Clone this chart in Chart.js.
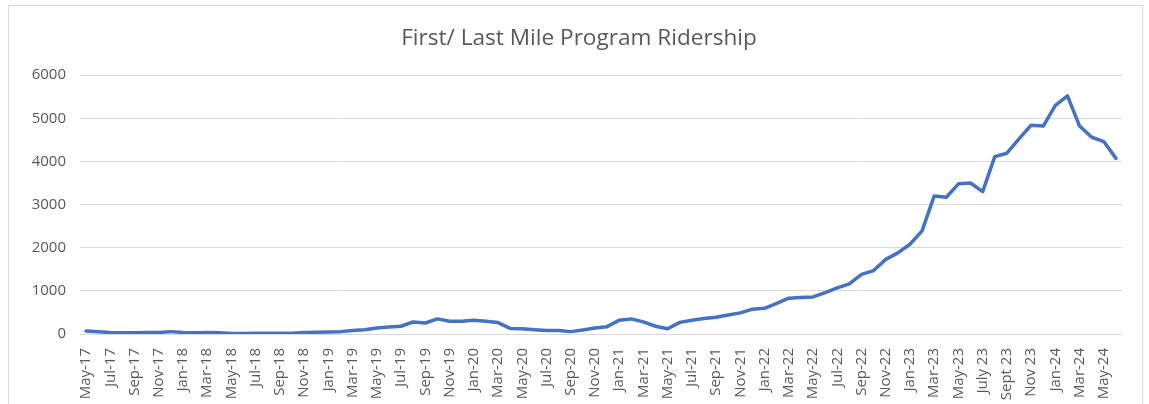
<!DOCTYPE html>
<html>
<head>
<meta charset="utf-8">
<script src="https://cdn.jsdelivr.net/npm/chart.js@4"></script>
<style>
  body { margin: 0; background: #fff; }
  .wrap { position: relative; width: 1149px; height: 404px; overflow: hidden; }
  .frame { position: absolute; left: 8px; top: 5px; width: 1133px; height: 440px; border: 1px solid #d9d9d9; }
  canvas { position: absolute; left: 0; top: 0; }
</style>
</head>
<body>
<div class="wrap">
  <div class="frame"></div>
  <canvas id="myChart" width="1149" height="404"></canvas>
</div>
<script>
// Data

const months = [
    'May-17','Jun-17','Jul-17','Aug-17','Sep-17','Oct-17','Nov-17','Dec-17',
    'Jan-18','Feb-18','Mar-18','Apr-18','May-18','Jun-18','Jul-18','Aug-18','Sep-18','Oct-18','Nov-18','Dec-18',
    'Jan-19','Feb-19','Mar-19','Apr-19','May-19','Jun-19','Jul-19','Aug-19','Sep-19','Oct-19','Nov-19','Dec-19',
    'Jan-20','Feb-20','Mar-20','Apr-20','May-20','Jun-20','Jul-20','Aug-20','Sep-20','Oct-20','Nov-20','Dec-20',
    'Jan-21','Feb-21','Mar-21','Apr-21','May-21','Jun-21','Jul-21','Aug-21','Sep-21','Oct-21','Nov-21','Dec-21',
    'Jan-22','Feb-22','Mar-22','Apr-22','May-22','Jun-22','Jul-22','Aug-22','Sep-22','Oct-22','Nov-22','Dec-22',
    'Jan-23','Feb-23','Mar-23','Apr-23','May-23','June 23','July 23','Aug 23','Sept 23','Oct 23','Nov 23','Dec 23',
    'Jan-24','Feb-24','Mar-24','Apr-24','May-24','Jun-24'
];

const riders = [
    70, 50, 35, 30, 30, 35, 35, 55,
    35, 30, 35, 30, 10, 10, 15, 15, 15, 20, 35, 40,
    45, 55, 80, 100, 140, 160, 180, 280, 255, 350, 295, 295,
    320, 295, 265, 130, 120, 100, 80, 80, 55, 95, 140, 170,
    320, 350, 280, 180, 120, 270, 320, 360, 390, 440, 490, 575,
    595, 710, 830, 845, 860, 960, 1070, 1160, 1380, 1470, 1730, 1880,
    2080, 2390, 3200, 3170, 3480, 3500, 3300, 4110, 4190, 4520, 4840, 4820,
    5300, 5520, 4820, 4560, 4460, 4070
];

const yTicks = [0, 1000, 2000, 3000, 4000, 5000, 6000];

// nudge the title to sit centred over the frame, like the original
const titleShift = {
    id: 'titleShift',
    afterLayout: function (chart) {
        if (chart.titleBlock) chart.titleBlock.left = 36;
    }
};

// Chart js
const ctx = document.getElementById('myChart').getContext('2d');
const myChart = new Chart(ctx, {
    type: 'line',
    data: {
        labels: months,
        datasets: [{
            label: 'Ridership',
            data: riders,
            borderColor: '#4472C4',
            borderWidth: 3.5,
            borderJoinStyle: 'round',
            borderCapStyle: 'round',
            pointRadius: 0,
            tension: 0,
            fill: false
        }]
    },
    plugins: [titleShift],
    options: {
        responsive: false,
        animation: false,
        layout: {
            padding: { left: 0, right: 27, top: 0, bottom: 0 }
        },
        plugins: {
            legend: { display: false },
            tooltip: { enabled: false },
            title: {
                display: true,
                text: 'First/ Last Mile Program Ridership',
                color: '#595959',
                font: { family: 'Open Sans', size: 22.6, weight: 'normal' },
                padding: { top: 25, bottom: 23 }
            }
        },
        scales: {
            y: {
                min: 0,
                max: 6000,
                afterBuildTicks: function (scale) {
                    scale.ticks = yTicks.map(v => ({ value: v }));
                },
                afterFit: function (scale) {
                    scale.width = 80;
                },
                ticks: {
                    color: '#595959',
                    font: { family: 'Open Sans', size: 15 },
                    padding: 14,
                    callback: function (val) {
                        return String(val);
                    }
                },
                grid: {
                    color: '#d9d9d9',
                    lineWidth: 1,
                    drawTicks: false
                },
                border: { display: false }
            },
            x: {
                offset: true,
                afterFit: function (scale) {
                    scale.height = 70;
                },
                ticks: {
                    autoSkip: false,
                    minRotation: 90,
                    maxRotation: 90,
                    color: '#595959',
                    font: { family: 'Open Sans', size: 15 },
                    padding: 6,
                    callback: function (val, i) {
                        return i % 2 === 0 ? months[i] : '';
                    }
                },
                grid: { display: false },
                border: { display: true, color: '#d9d9d9' }
            }
        }
    }
});
</script>
</body>
</html>
